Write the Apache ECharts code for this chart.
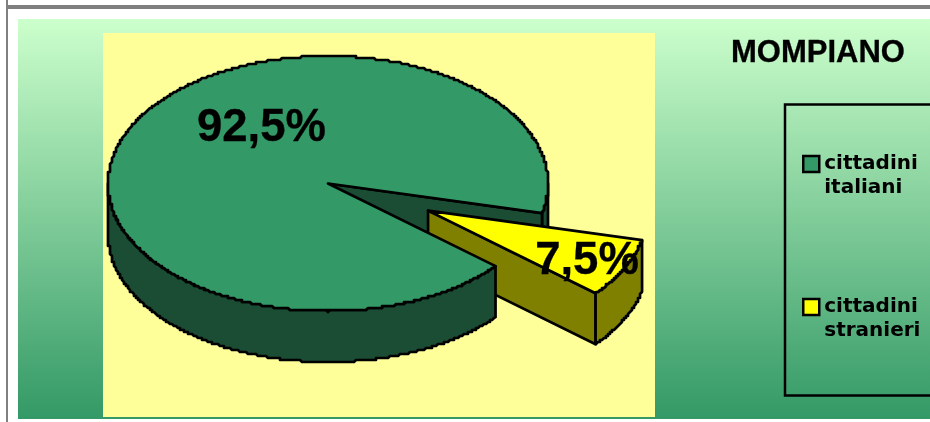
<!DOCTYPE html>
<html>
<head>
<meta charset="utf-8">
<style>html,body{margin:0;padding:0;background:#fff}#c{width:930px;height:422px}</style>
<script src="https://cdn.jsdelivr.net/npm/echarts@6/dist/echarts.min.js"></script>
</head>
<body>
<div id="c"></div>
<script>
const titleText = 'MOMPIANO';
const categories = ['cittadini italiani', 'cittadini stranieri'];
const shareValues = [92.5, 7.5];
const sliceColors = ['#339966', '#FFFF00'];
const wallColors = ['#1A4D33', '#808000'];

// Geometry of the tilted pie
const G = { cx: 328, cy: 183.5, rx: 220, ry: 127.5, depth: 51, start: 13.4,
            exX: 0.51, exY: 0.47, lw: 2.7 };
const total = shareValues.reduce((a, b) => a + b, 0);
const rad = d => d * Math.PI / 180;
const sweep = shareValues[1] / total * 360;
const t1 = G.start, t2 = G.start + sweep, tm = (t1 + t2) / 2;

function arc(a, b, cx, cy, dy) {
  // slightly stair-stepped rim, as in the low-resolution original
  const pts = [];
  const n = Math.max(2, Math.ceil(Math.abs(b - a) / 0.4));
  for (let i = 0; i <= n; i++) {
    const t = rad(a + (b - a) * i / n);
    let x = cx + G.rx * Math.cos(t), y = cy + G.ry * Math.sin(t) + dy;
    if (i > 0 && i < n) { x = Math.round(x / 2) * 2; y = Math.round(y / 2) * 2; }
    const last = pts[pts.length - 1];
    if (!last || last[0] !== x || last[1] !== y) pts.push([x, y]);
  }
  return pts;
}
function poly(points, fill, z2) {
  return { type: 'polygon', z2, shape: { points },
           style: { fill, stroke: '#000', lineWidth: G.lw, lineJoin: 'round' } };
}
function rim(a, b, cx, cy, fill, z2) {
  return poly(arc(a, b, cx, cy, 0).concat(arc(a, b, cx, cy, G.depth).reverse()), fill, z2);
}
function edgeWall(t, cx, cy, fill, z2) {
  const x = cx + G.rx * Math.cos(rad(t)), y = cy + G.ry * Math.sin(rad(t));
  return poly([[cx, cy], [x, y], [x, y + G.depth], [cx, cy + G.depth]], fill, z2);
}
function pctText(v) { return String(v).replace('.', ',') + '%'; }
function label(v, x, y) {
  return { type: 'text', z2: 50, silent: true,
           style: { x, y, text: pctText(v), fill: '#000', align: 'center', verticalAlign: 'middle',
                    stroke: '#000', lineWidth: 0.3,
                    font: 'bold 45.5px "Liberation Sans", Arial, sans-serif' } };
}
function renderItaliani(params, api) {
  const v = api.value(0), c = sliceColors[0], w = wallColors[0];
  const top = [[G.cx, G.cy]].concat(arc(t2, G.start + 360, G.cx, G.cy, 0));
  return { type: 'group', children: [
    rim(0, t1, G.cx, G.cy, w, 1),
    edgeWall(t1, G.cx, G.cy, w, 2),
    rim(t2, 180, G.cx, G.cy, w, 20),
    poly(top, c, 21),
    label(v, 261.5, 128.5)
  ]};
}
function renderStranieri(params, api) {
  const v = api.value(0), c = sliceColors[1], w = wallColors[1];
  const ax = G.cx + G.exX * G.rx * Math.cos(rad(tm));
  const ay = G.cy + G.exY * G.ry * Math.sin(rad(tm));
  return { type: 'group', children: [
    edgeWall(t2, ax, ay, w, 10),
    rim(t1, t2, ax, ay, w, 10),
    poly([[ax, ay]].concat(arc(t1, t2, ax, ay, 0)), c, 11),
    label(v, 587, 261)
  ]};
}

const chart = echarts.init(document.getElementById('c'), null, { renderer: 'canvas' });
chart.setOption({
  animation: false,
  backgroundColor: '#ffffff',
  title: { text: titleText, left: 731, top: 35, padding: 0,
           textStyle: { fontFamily: '"Liberation Sans", Arial, sans-serif', fontWeight: 'bold',
                        fontSize: 31, color: '#000', lineHeight: 36,
                        textBorderColor: '#000', textBorderWidth: 0.3 } },
  legend: {
    show: true, orient: 'vertical', left: 802, top: 128, padding: 0,
    itemWidth: 16, itemHeight: 16, itemGap: 71, icon: 'rect', selectedMode: false,
    data: categories,
    itemStyle: { borderColor: '#000', borderWidth: 2.5 },
    formatter: n => '\n' + n.replace(' ', '\n'),
    textStyle: { fontFamily: '"DejaVu Sans", sans-serif', fontWeight: 'bold', fontSize: 20,
                 lineHeight: 24, color: '#000' }
  },
  graphic: [
    { type: 'rect', z: -10, silent: true, shape: { x: 18, y: 19, width: 912, height: 400 },
      style: { fill: new echarts.graphic.LinearGradient(0, 0, 0, 1,
        [{ offset: 0, color: '#CCFFCC' }, { offset: 1, color: '#339966' }]) } },
    { type: 'rect', z: -9, silent: true, shape: { x: 103, y: 33, width: 552, height: 384 },
      style: { fill: '#FFFF99' } },
    { type: 'rect', z: -9, silent: true, shape: { x: 6, y: 5, width: 924, height: 4 },
      style: { fill: '#808080' } },
    { type: 'rect', z: -9, silent: true, shape: { x: 6, y: 0, width: 2, height: 422 },
      style: { fill: '#808080' } },
    { type: 'rect', z: -8, silent: true, shape: { x: 785, y: 104.5, width: 160, height: 291 },
      style: { fill: 'none', stroke: '#000', lineWidth: 2.5 } }
  ],
  series: [
    { type: 'custom', name: categories[0], coordinateSystem: 'none', silent: true,
      itemStyle: { color: sliceColors[0] }, data: [[shareValues[0]]], renderItem: renderItaliani },
    { type: 'custom', name: categories[1], coordinateSystem: 'none', silent: true,
      itemStyle: { color: sliceColors[1] }, data: [[shareValues[1]]], renderItem: renderStranieri }
  ]
});
</script>
</body>
</html>
